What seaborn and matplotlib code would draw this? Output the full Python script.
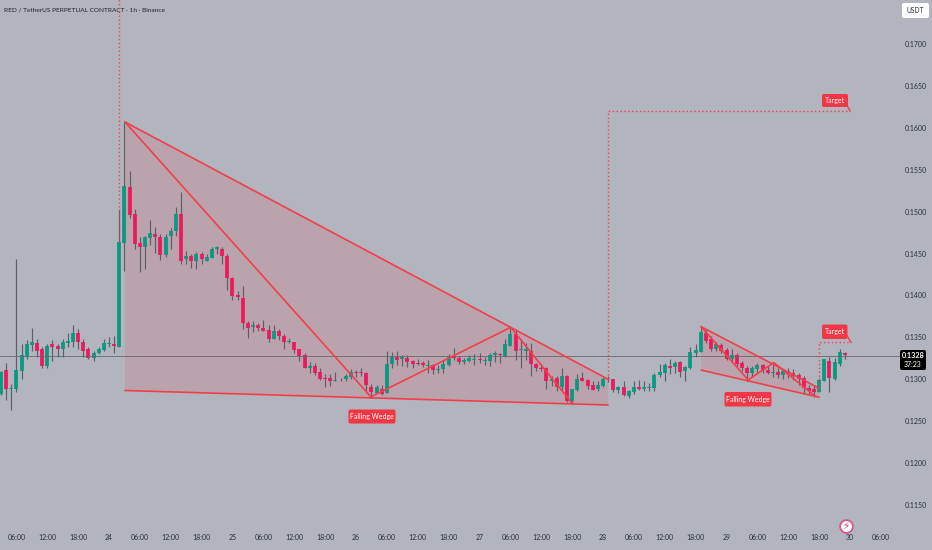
import numpy as np
import pandas as pd
import seaborn as sns
import matplotlib.pyplot as plt
from matplotlib.patches import Polygon, FancyBboxPatch

# candles, prices in units of 0.0001, hour 0 = day 24 00:00
first_hour = -21
opens = [1282,1310.6,1288,1288.4,1310,1326.5,1341,1343.6,1335.7,1315.8,1341.6,1339.3,1335.7,1343.6,1344.4,1354.8,1344.8,1335.7,1325.3,1331,1335,1342.4,1342,
         1338.9,1463,1529.8,1496.8,1462,1457.8,1468,1473.7,1469.7,1448,1471,1477,1497,1443,1447,1441.5,1449.4,1441.5,1445,1456,1456,1447,
         1421,1400,1397.4,1366.8,1362.8,1364.4,1361.6,1358.8,1348.4,1357.2,1352,1344,1344.5,1335.7,1329,1313.4,1315.8,1308.7,1301,1301,1298,1299.9,1299.9,1303.1,1309,1308.7,1307,1291.2,1284,1288.8,1283.2,1318.2,1327,1323.8,1325.4,1321.4,1319.4,1319.4,1316,1316.6,1311,1312.3,1316.6,1327.8,1325.4,1320.6,1321.4,
         1323.4,1323.8,1321.8,1321.8,1328.6,1329.8,1326.2,1340,1354,1335,1334,1334,1318.7,1313.9,1313,1297.6,1301.6,1290.4,1304,1274.5,1287.3,1301.6,1299.6,1292.8,1288,1292,1300,1300,1287.3,1290.4,1280,1284.9,1291.2,1288.4,1289.6,1289.6,1304.7,1307,1316.3,1315,1320.7,1310.3,1313.9,1331.4,
         1333,1355.7,1347.7,1335.8,1341.3,1335,1323.8,1329,1319,1313.9,1307.9,1311.9,1316.7,1311.5,1307.5,1308.7,1304.7,1309.9,1307,1304.7,1302,1290,1288.8,1285.3,1298.4,1322.2,1300,1317.9,1331.8]
highs = [1310,1319,1294,1443,1341.6,1346.8,1361.5,1348.4,1338,1341.6,1346.8,1342,1347.6,1354.8,1364.3,1359.5,1348.4,1338.5,1333.7,1338.5,1347.6,1350,1351.6,
         1503,1607,1548.5,1502.7,1469.7,1471,1490,1482,1473,1473,1480,1505,1523.4,1453,1449.4,1452,1452,1450,1458,1459.4,1458,1450,
         1422,1405,1411,1370,1369,1366.7,1370.7,1364.8,1364.8,1359.6,1354.4,1348.8,1344.9,1335.7,1331,1321,1319.8,1314,1306.3,1306,1308.3,1302,1306.3,1312.7,1311,1313,1309,1294,1293.2,1293,1334,1333,1334,1329,1329,1323,1323.8,1322,1323,1317.8,1317,1323,1330,1337,1327.8,1325,1329,
         1329.8,1331,1327,1331,1334,1331.8,1347.7,1360.8,1359.6,1347.7,1343.7,1343,1320,1318,1315,1304,1304,1314,1305,1288,1306,1308.7,1300.4,1298.4,1297.6,1303,1304,1300,1292,1298.4,1287,1298.4,1299,1298.4,1295,1307,1318,1320,1323.8,1322,1322,1316,1338,1342,
         1362.8,1359.6,1351.7,1344.5,1343.7,1337,1335.8,1331,1321.9,1315.9,1315.9,1319,1318.3,1315.9,1319.9,1314,1312.7,1313.5,1312,1307,1304.4,1293,1292.8,1301,1324.6,1326,1325,1336,1333]
lows = [1281,1275,1263.3,1285,1300.7,1324,1334,1326,1314,1313.4,1322,1326,1326,1338.5,1339,1336.5,1327,1323.7,1321.4,1330,1334,1338,1331,
        1338,1429.5,1492,1455.8,1428,1431,1460,1451,1442,1446,1456,1471,1437,1437,1433,1431.5,1437,1441.5,1445,1450,1438,1406,
        1394,1394.5,1359.6,1349.6,1356.8,1357.6,1357.2,1345,1347.6,1346.8,1336,1343.7,1331,1322.2,1313.4,1308,1305.5,1299,1291,1292,1298,1297.5,1298.3,1300.7,1303,1304,1283.2,1278,1283.2,1281.2,1283.2,1314,1316.6,1315.8,1315,1313,1317,1315,1308,1306.3,1307,1308,1315.8,1323,1318.2,1318,1321,
        1317,1319,1317,1316,1321,1320,1326.2,1340,1323,1314,1323,1304,1310,1310,1288.8,1292,1286.5,1287.3,1273.3,1270.5,1286.5,1297.6,1288.8,1287.3,1286,1291.2,1297,1284.9,1284,1280,1278,1282.5,1287.3,1286.5,1285.7,1286.5,1303,1297.6,1306.3,1308,1303,1297.6,1312.7,1327,
        1333,1342.9,1334,1334,1331.8,1323,1321,1315,1310.3,1298.4,1303,1307,1307,1306,1303,1301,1300.8,1301,1299,1293,1283,1281,1279,1285.3,1298.4,1285,1299,1316,1324]
closes = [1309,1288,1289.5,1310.6,1328.5,1342,1344.4,1333.7,1316,1340,1338,1335.7,1344.4,1345.2,1354.8,1344.4,1333.7,1325.7,1331.3,1336.5,1343,1343.6,1339.3,
          1464,1530.6,1496,1461.4,1457.8,1469.7,1474.5,1469.3,1447.8,1470,1477,1497,1441,1447,1441,1449.4,1443,1445.5,1455.4,1457.4,1447,1421,
          1399,1398,1366.8,1361.6,1364.4,1361.6,1358,1347.6,1357.2,1351.6,1344.5,1345.3,1335,1328.2,1313.4,1315.8,1307.9,1300,1300.3,1297.5,1299.5,1300.7,1303.9,1308.7,1308,1307,1292.8,1284.8,1290.4,1282.4,1318.2,1327,1323,1326.6,1320.6,1318.6,1318.2,1316.6,1317,1311,1312.7,1318.6,1327.8,1325,1320.6,1323,1325.4,
          1324.2,1322.6,1323,1328.6,1331,1329,1342,1354,1333.8,1336,1335.6,1318,1313,1312.3,1297.6,1300.8,1290.4,1304,1274.5,1288,1300.8,1298.4,1292,1287.3,1292.8,1300.8,1301,1287.3,1290.4,1281.7,1286,1290.8,1288,1290.4,1290.8,1305.5,1308.7,1316.7,1313,1319.9,1308.7,1314.3,1332,1334.6,
          1356.9,1345.7,1335.8,1341.7,1334,1324.2,1329,1317.9,1313,1307.9,1313.9,1316.7,1310.7,1307,1308.7,1305.5,1309.5,1306.3,1304.4,1300,1289.2,1286,1285.3,1299,1323.8,1302,1321,1333,1328.6]

price_ticks = [1150,1200,1250,1300,1350,1400,1450,1500,1550,1600,1650,1700]
last_price = 1328
countdown = "37:23"
title = "RED / TetherUS PERPETUAL CONTRACT · 1h · Binance"

# drawings, (hour, price)
big_upper = [(3.1,1607),(97,1300)]
big_lower = [(3.1,1286.6),(97,1269.3)]
big_zigzag = [(3.1,1607),(50.9,1279),(78.06,1362),(90.1,1270.6)]
small_upper = [(115.05,1362.8),(138,1289.3)]
small_lower = [(115.05,1311),(138,1278.5)]
small_zigzag = [(115.05,1362.8),(124.2,1299.2),(129.2,1319.9),(137.2,1280)]
big_target = [(97,1300),(97,1620),(144,1620)]
small_target = [(138,1289.3),(138,1344),(144.2,1344)]
entry_line = [(2,1464),(2,1755)]

BG = "#b2b5be"
GREEN = "#089981"
PINK = "#ec1a5c"
WICK = "#5c5e68"
LINE = "#f23e4c"

sns.set_theme(style="white")
plt.rcParams["font.family"] = ["Lato", "DejaVu Sans"]

hours = np.arange(len(opens)) + first_hour
df = pd.DataFrame({"hour": hours, "o": opens, "h": highs, "l": lows, "c": closes})
df[["o", "h", "l", "c"]] = df[["o", "h", "l", "c"]] / 10000
df["up"] = df["c"] >= df["o"]

fig, ax = plt.subplots(figsize=(9.32, 5.5), dpi=100)
fig.patch.set_facecolor(BG)
ax.set_facecolor(BG)
ax.set_position([0, 0, 1, 1])

def px(v):
    return v / 10000

# pattern shading first so the candles sit on top
for up, lo in [(big_upper, big_lower), (small_upper, small_lower)]:
    pts = [(up[0][0], px(up[0][1])), (up[1][0], px(up[1][1])), (lo[1][0], px(lo[1][1])), (lo[0][0], px(lo[0][1]))]
    ax.add_patch(Polygon(pts, closed=True, fc=LINE, alpha=0.15, ec="none", zorder=1))

wicks = df.melt(id_vars=["hour"], value_vars=["h", "l"], value_name="price")
sns.lineplot(data=wicks, x="hour", y="price", units="hour", estimator=None, color=WICK,
             lw=0.85, solid_capstyle="butt", ax=ax, zorder=2, legend=False)

bodies = df.melt(id_vars=["hour", "up"], value_vars=["o", "c"], value_name="price")
sns.lineplot(data=bodies, x="hour", y="price", units="hour", estimator=None, hue="up",
             palette={True: GREEN, False: PINK}, lw=2.7, solid_capstyle="butt", ax=ax, zorder=3, legend=False)

ax.axhline(px(last_price), xmax=900 / 932, color="#666872", lw=0.6, zorder=4)

def draw(points, **kw):
    xs = [p[0] for p in points]
    ys = [px(p[1]) for p in points]
    ax.plot(xs, ys, color=LINE, zorder=5, **kw)

for seg in [big_upper, big_lower, big_zigzag, small_upper, small_lower, small_zigzag]:
    draw(seg, lw=1.2, solid_joinstyle="miter")
for seg in [big_target, small_target, entry_line]:
    draw(seg, lw=1.0, linestyle=(0, (1, 1.8)))

# tails of the target labels
draw([(143.2, 1629), (144, 1620)], lw=1.0)
draw([(143.4, 1352), (144.2, 1344)], lw=1.0)

def box(x0, y0, x1, y1, color, z):
    # pixel box of the screenshot, top left origin
    ax.add_patch(FancyBboxPatch((x0 / 932, 1 - y1 / 550), (x1 - x0) / 932, (y1 - y0) / 550,
                                boxstyle="round,pad=0,rounding_size=0.002", transform=ax.transAxes,
                                fc=color, ec="none", zorder=z, mutation_aspect=932 / 550))

def tag(x0, y0, x1, y1, s):
    box(x0, y0, x1, y1, "#f23645", 6)
    ax.text((x0 + x1) / 2 / 932, 1 - (y0 + y1) / 2 / 550, s, transform=ax.transAxes, color="white",
            fontsize=5.0, ha="center", va="center", zorder=7)

tag(822, 94, 848, 107, "Target")
tag(822, 324.5, 847.5, 339, "Target")
tag(348.5, 409.5, 395.5, 423.5, "Falling Wedge")
tag(724.5, 392, 771.5, 406.5, "Falling Wedge")

ax.set_xlim(-21.18, 159.93)
ax.set_ylim(0.10963, 0.17525)

# axis labels sit inside the plot area like on the trading screen
tick_hours = np.arange(-18, 151, 6)
tick_labels = [str(24 + h // 24) if h % 24 == 0 else f"{h % 24:02d}:00" for h in tick_hours]
ax.set_xticks(tick_hours, tick_labels)
ax.set_yticks([px(p) for p in price_ticks], [f"{px(p):.4f}" for p in price_ticks])
ax.yaxis.tick_right()
ax.tick_params(axis="x", length=0, pad=-11.5, labelsize=5.0, labelcolor="#2a2e39")
ax.tick_params(axis="y", length=0, pad=-19.5, labelsize=5.0, labelcolor="#2a2e39")
ax.set_xlabel("")
ax.set_ylabel("")
sns.despine(ax=ax, left=True, bottom=True, right=True, top=True)

ax.text(4 / 932, 1 - 10 / 550, title, transform=ax.transAxes, fontsize=4.65, color="#1f222b", va="center")

box(902, 3, 929, 18, "white", 6)
ax.text(915.5 / 932, 1 - 10.5 / 550, "USDT", transform=ax.transAxes, fontsize=4.9, color="#2a2e39", ha="center", va="center", zorder=7)

box(900, 350, 926, 370, "black", 6)
ax.text(913 / 932, 1 - 355.5 / 550, "0.1328", transform=ax.transAxes, fontsize=5.2, fontweight="bold", color="white", ha="center", va="center", zorder=8)
ax.text(913 / 932, 1 - 364.5 / 550, countdown, transform=ax.transAxes, fontsize=5.0, color="white", ha="center", va="center", zorder=8)

# lightning badge
ax.scatter([845.7 / 932], [1 - 525.7 / 550], s=85, transform=ax.transAxes, fc="white", ec="#d9558f", lw=1.3, zorder=6)
ax.text(845.7 / 932, 1 - 525.9 / 550, "\u26a1", transform=ax.transAxes, fontsize=7.5, family="DejaVu Sans", color="#c93a78", ha="center", va="center", zorder=7)

fig.savefig("out.png", dpi=100, facecolor=BG)
